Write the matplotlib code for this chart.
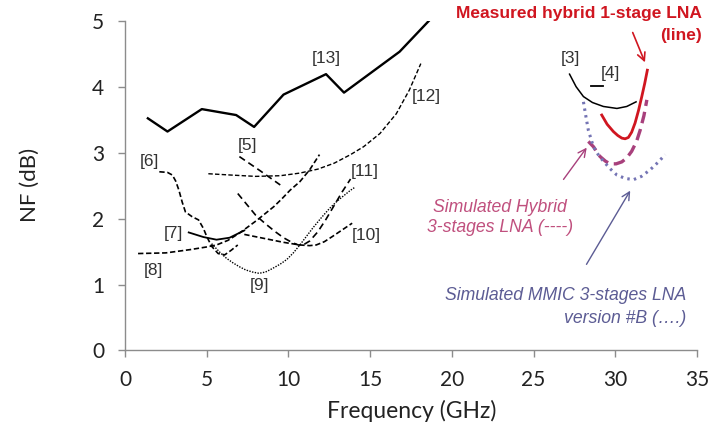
import matplotlib
matplotlib.use("Agg")
import matplotlib.pyplot as plt

# --- data (frequency in GHz, NF in dB) ---
ref13_f = [1.4, 2.6, 4.7, 6.8, 7.9, 9.7, 12.3, 13.4, 16.8, 18.6]
ref13_nf = [3.52, 3.32, 3.66, 3.57, 3.39, 3.88, 4.19, 3.91, 4.53, 5.0]

ref12_f = [5.1, 6.5, 8.0, 9.5, 10.7, 11.8, 12.8, 13.8, 14.6, 15.6, 16.6, 17.4, 18.1]
ref12_nf = [2.68, 2.66, 2.64, 2.65, 2.69, 2.75, 2.84, 2.97, 3.09, 3.29, 3.59, 3.95, 4.35]

ref5_f = [7.0, 8.3, 9.5]
ref5_nf = [2.94, 2.72, 2.51]

ref6_f = [2.1, 2.6, 2.9, 3.1, 3.3, 3.5, 3.7, 4.1, 4.5, 4.8, 5.0, 5.3, 5.7, 6.1, 6.5, 6.9]
ref6_nf = [2.71, 2.70, 2.66, 2.57, 2.43, 2.25, 2.10, 2.03, 1.98, 1.85, 1.73, 1.58, 1.47, 1.45, 1.52, 1.60]

ref7_f = [3.9, 4.8, 5.6, 6.4, 7.3]
ref7_nf = [1.79, 1.72, 1.68, 1.71, 1.82]

ref8_f = [0.8, 2.5, 4.0, 5.0, 5.6, 6.3, 7.0, 7.5, 8.1, 8.6, 9.1, 9.6, 10.1, 10.7, 11.3, 11.9]
ref8_nf = [1.47, 1.48, 1.53, 1.57, 1.60, 1.67, 1.78, 1.87, 1.98, 2.08, 2.18, 2.30, 2.43, 2.56, 2.74, 2.97]

ref9_f = [5.3, 5.8, 6.2, 6.6, 7.0, 7.4, 7.8, 8.2, 8.6, 9.0, 9.5, 9.9, 10.3, 10.7, 11.1,
          11.5, 12.0, 12.5, 13.0, 13.4, 13.8, 14.1]
ref9_nf = [1.62, 1.49, 1.40, 1.33, 1.27, 1.22, 1.19, 1.17, 1.19, 1.24, 1.31, 1.38, 1.48, 1.60, 1.73,
           1.86, 2.01, 2.15, 2.27, 2.35, 2.43, 2.48]

ref10_f = [7.3, 8.5, 9.7, 10.7, 11.3, 11.7, 12.2, 12.7, 13.3, 13.9]
ref10_nf = [1.76, 1.70, 1.64, 1.60, 1.59, 1.60, 1.65, 1.73, 1.83, 1.93]

ref11_f = [6.9, 7.5, 8.0, 8.6, 9.2, 9.7, 10.2, 10.6, 10.9, 11.3, 11.8, 12.3, 12.8, 13.3, 13.8]
ref11_nf = [2.38, 2.20, 2.05, 1.92, 1.80, 1.71, 1.64, 1.60, 1.60, 1.66, 1.80, 1.99, 2.20, 2.41, 2.60]

ref3_f = [27.2, 27.6, 28.05, 28.6, 29.27, 30.1, 30.7, 31.27]
ref3_nf = [4.19, 4.00, 3.85, 3.76, 3.70, 3.67, 3.70, 3.77]

ref4_f = [28.5, 29.27]
ref4_nf = [4.01, 4.01]

meas_f = [29.17, 29.5, 29.88, 30.15, 30.4, 30.6, 30.8, 31.0, 31.21, 31.42, 31.62, 31.8, 31.96]
meas_nf = [3.57, 3.43, 3.32, 3.26, 3.22, 3.21, 3.23, 3.31, 3.45, 3.64, 3.85, 4.05, 4.25]

hyb_f = [28.35, 28.66, 29.07, 29.4, 29.68, 30.05, 30.4, 30.7, 31.0, 31.3, 31.52, 31.75, 31.93]
hyb_nf = [3.17, 3.09, 2.94, 2.87, 2.83, 2.83, 2.86, 2.92, 3.02, 3.17, 3.34, 3.56, 3.80]

mmic_f = [28.05, 28.2, 28.35, 28.66, 29.0, 29.38, 29.75, 30.1, 30.6, 31.11, 31.6, 32.13, 32.6, 33.05]
mmic_nf = [3.77, 3.55, 3.34, 3.09, 2.95, 2.84, 2.74, 2.66, 2.61, 2.59, 2.64, 2.74, 2.85, 2.97]

x_ticks = [0, 5, 10, 15, 20, 25, 30, 35]
y_ticks = [0, 1, 2, 3, 4, 5]

RED = "#d01620"
HYB = "#a8407c"
MMIC = "#7474b4"
HYB_TXT = "#c0507e"
MMIC_TXT = "#5c5c94"
AXC = "#8c8c8c"
TICKFONT = "Lato"
ARIAL = "Liberation Sans"

fig = plt.figure(figsize=(7.13, 4.23), dpi=100)
ax = fig.add_axes([0.1753, 0.1714, 0.8023, 0.7796])

dash = (0, (3.2, 1.6))
ax.plot(ref13_f, ref13_nf, color="black", lw=1.7)
ax.plot(ref12_f, ref12_nf, color="black", lw=1.0, ls=dash)
ax.plot(ref5_f, ref5_nf, color="black", lw=1.2, ls=(0, (4, 2.5)))
ax.plot(ref6_f, ref6_nf, color="black", lw=1.2, ls=dash)
ax.plot(ref7_f, ref7_nf, color="black", lw=1.3)
ax.plot(ref8_f, ref8_nf, color="black", lw=1.2, ls=dash)
ax.plot(ref9_f, ref9_nf, color="black", lw=1.0, ls=(0, (1, 1)))
ax.plot(ref10_f, ref10_nf, color="black", lw=1.2, ls=dash)
ax.plot(ref11_f, ref11_nf, color="black", lw=1.2, ls=(0, (4, 2.5)))
ax.plot(ref3_f, ref3_nf, color="black", lw=1.1)
ax.plot(ref4_f, ref4_nf, color="black", lw=1.3)
ax.plot(meas_f, meas_nf, color=RED, lw=2.0)
ax.plot(hyb_f, hyb_nf, color=HYB, lw=2.4, ls=(0, (3.5, 1.8)))
ax.plot(mmic_f, mmic_nf, color=MMIC, lw=2.2, ls=(0, (0.8, 1.4)))

ax.set_xlim(0, 35)
ax.set_ylim(0, 5)
ax.set_xticks(x_ticks)
ax.set_yticks(y_ticks)
for s in ("top", "right"):
    ax.spines[s].set_visible(False)
for s in ("left", "bottom"):
    ax.spines[s].set_color(AXC)
    ax.spines[s].set_linewidth(1.0)
ax.tick_params(colors=AXC, length=5, width=1.0)
ax.tick_params(axis="x", pad=9)
ax.tick_params(axis="y", pad=10)
for lab in ax.get_xticklabels() + ax.get_yticklabels():
    lab.set_fontfamily(TICKFONT)
    lab.set_fontsize(15)
    lab.set_color("#222222")

fig.text(30 / 713, 1 - 185 / 423, "NF (dB)", rotation=90, ha="center", va="center",
         fontsize=16, family=TICKFONT, color="#222222")
fig.text(412 / 713, 1 - 418 / 423, "Frequency (GHz)", ha="center", va="baseline",
         fontsize=16.5, family=TICKFONT, color="#222222")

# reference labels
ref_labels = [("[13]", 12.34, 4.43), ("[12]", 18.46, 3.85), ("[5]", 7.51, 3.11),
              ("[6]", 1.49, 2.86), ("[11]", 14.69, 2.71), ("[7]", 2.96, 1.78),
              ("[10]", 14.79, 1.75), ("[8]", 1.77, 1.22), ("[9]", 8.22, 0.99),
              ("[3]", 27.28, 4.43), ("[4]", 29.68, 4.2)]
for txt, x, y in ref_labels:
    ax.text(x, y, txt, ha="center", va="center", fontsize=12.5, family=ARIAL,
            color="#333333")

# annotations
ax.text(35.31, 5.11, "Measured hybrid 1-stage LNA", ha="right", va="center",
        fontsize=12.5, family=ARIAL, weight="bold", color=RED, clip_on=False)
ax.text(35.31, 4.78, "(line)", ha="right", va="center",
        fontsize=12.5, family=ARIAL, weight="bold", color=RED, clip_on=False)
ax.annotate("", xy=(31.88, 4.33), xytext=(31.0, 4.86),
            arrowprops=dict(arrowstyle="->", color=RED, lw=1.2, mutation_scale=14))

ax.text(22.95, 2.17, "Simulated Hybrid", ha="center", va="center", fontsize=12.7,
        family=ARIAL, style="italic", color=HYB_TXT)
ax.text(22.95, 1.86, "3-stages LNA (----)", ha="center", va="center", fontsize=12.7,
        family=ARIAL, style="italic", color=HYB_TXT)
ax.annotate("", xy=(28.35, 3.11), xytext=(26.73, 2.56),
            arrowprops=dict(arrowstyle="->", color=HYB, lw=1.0, mutation_scale=14))

ax.text(34.37, 0.84, "Simulated MMIC 3-stages LNA", ha="right", va="center",
        fontsize=12.7, family=ARIAL, style="italic", color=MMIC_TXT)
ax.text(34.37, 0.49, "version #B (….)", ha="right", va="center",
        fontsize=12.7, family=ARIAL, style="italic", color=MMIC_TXT)
ax.annotate("", xy=(31.0, 2.46), xytext=(28.15, 1.27),
            arrowprops=dict(arrowstyle="->", color=MMIC_TXT, lw=1.0, mutation_scale=14))

fig.savefig("out.png", dpi=100)
